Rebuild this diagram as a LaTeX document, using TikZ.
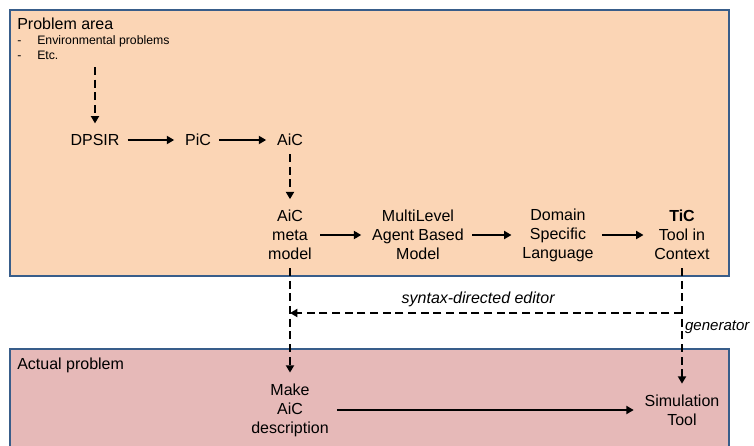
\documentclass[tikz,border=0pt]{standalone}
\usepackage{fontspec}
\setmainfont{Liberation Sans}
\usetikzlibrary{arrows.meta}

\definecolor{areafill}{HTML}{FBD5B5}
\definecolor{actualfill}{HTML}{E6B9B8}
\definecolor{boxline}{HTML}{385D8A}

\begin{document}
\fontsize{12}{14.25}\selectfont
\begin{tikzpicture}[x=0.75pt, y=-0.75pt,
    item/.style = {align=center, inner sep=6pt},
    listline/.style = {anchor=base west, inner sep=0, font=\fontsize{9.2}{11.25}\selectfont},
    flow/.style = {line width=1.5pt, -{Triangle[length=5.5pt,width=6pt]}, shorten >=2pt},
    dflow/.style = {flow, dash pattern=on 6pt off 3.5pt},
    area/.style = {draw=boxline, line width=1pt}]

        \useasboundingbox (0,0) rectangle (754,446);
        \draw[area, fill=areafill] (10,10) rectangle (729,276);
        \draw[area, fill=actualfill] (10,349) rectangle (729,460);

        \node[anchor=base west, inner sep=0] (area) at (17,29) {Problem area};
        \node[listline] (env) at (17,45) {\makebox[15pt][l]{-}Environmental problems};
        \node[listline] (etc) at (17,60) {\makebox[15pt][l]{-}Etc.};
        \coordinate (areastart) at (95,67);

        \node[item] (dpsir) at (95,140) {DPSIR};
        \node[item] (pic) at (198,140) {PiC};
        \node[item] (aic) at (290,140) {AiC};
        \node[item] (aicmeta) at (290,235) {AiC\\meta\\model};
        \node[item] (mlabm) at (418,235) {MultiLevel\\Agent Based\\Model};
        \node[item] (dsl) at (558,235) {Domain\\Specific\\Language};
        \node[item] (tic) at (682,235) {\textbf{TiC}\\Tool in\\Context};

        \node[anchor=base west, inner sep=0] (actual) at (17,369) {Actual problem};
        \node[item] (make) at (290,410) {Make\\AiC\\description};
        \node[item] (sim) at (682,410) {Simulation\\Tool};
        \coordinate (editor) at (682,313);

        \draw[dflow] (areastart) -- (dpsir);
        \draw[flow] (dpsir) -- (pic);
        \draw[flow] (pic) -- (aic);
        \draw[dflow] (aic) -- (aicmeta);
        \draw[flow] (aicmeta) -- (mlabm);
        \draw[flow] (mlabm) -- (dsl);
        \draw[flow] (dsl) -- (tic);
        \draw[dflow] (aicmeta) -- (make);
        \draw[dflow] (tic) -- node[midway, right, inner sep=1.5pt, font=\fontsize{11.3}{14}\selectfont\itshape] {generator} (sim);
        \draw[dflow, shorten >=0pt] (editor) -- node[pos=0.52, above, font=\itshape] {syntax-directed editor} (editor -| aicmeta);
        \draw[flow] (make) -- (sim);

        \end{tikzpicture}
\end{document}
